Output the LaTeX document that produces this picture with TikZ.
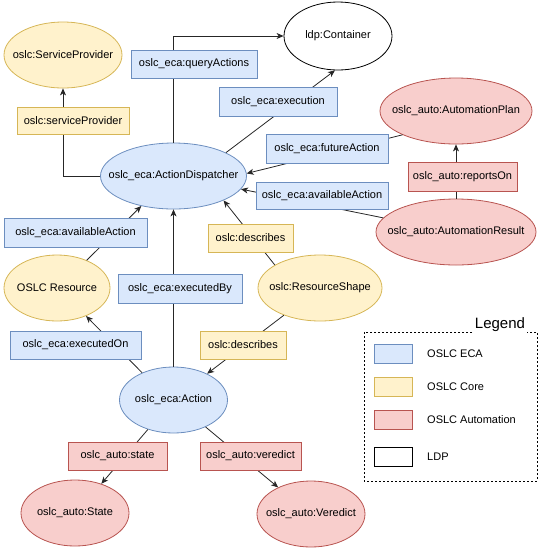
\documentclass[tikz,border=0pt]{standalone}
\usepackage{fontspec}
\setmainfont{Liberation Sans}
\usetikzlibrary{shapes.geometric,arrows.meta}
\definecolor{ecaF}{HTML}{DAE8FC}\definecolor{ecaD}{HTML}{6C8EBF}
\definecolor{coreF}{HTML}{FFF2CC}\definecolor{coreD}{HTML}{D6B656}
\definecolor{autoF}{HTML}{F8CECC}\definecolor{autoD}{HTML}{B85450}
\newcommand{\zw}[1]{\makebox[0pt]{#1}}
\tikzset{
  ell/.style={ellipse,inner sep=0pt,font=\fontsize{11}{13}\selectfont,line width=0.8pt},
  lbl/.style={rectangle,inner sep=0pt,font=\fontsize{11}{13}\selectfont,line width=0.8pt},
  eca/.style={fill=ecaF,draw=ecaD},
  core/.style={fill=coreF,draw=coreD},
  auto/.style={fill=autoF,draw=autoD},
  ldp/.style={fill=white,draw=black},
  conn/.style={line width=0.8pt,draw=black!85},
  arr/.style={conn,-{Stealth[length=7pt,width=6pt,inset=2pt]}},
}
\begin{document}
\begin{tikzpicture}[x=1pt,y=-1pt]
\useasboundingbox (0,0) rectangle (542,550);
% ellipses
\node[ell,core,minimum width=118pt,minimum height=66pt] (sp) at (63,55) {\zw{oslc:ServiceProvider}};
\node[ell,ldp,minimum width=108pt,minimum height=68pt] (cont) at (338,36) {\zw{ldp:Container}};
\node[ell,eca,minimum width=146pt,minimum height=66pt] (ad) at (173.5,176) {\zw{oslc\_eca:ActionDispatcher}};
\node[ell,auto,minimum width=152pt,minimum height=66pt] (ap) at (456,111) {\zw{oslc\_auto:AutomationPlan}};
\node[ell,auto,minimum width=160pt,minimum height=66pt] (ar) at (456,232) {\zw{oslc\_auto:AutomationResult}};
\node[ell,core,minimum width=106pt,minimum height=66pt] (res) at (57,288) {\zw{OSLC Resource}};
\node[ell,core,minimum width=124pt,minimum height=66pt] (rs) at (320,288) {\zw{oslc:ResourceShape}};
\node[ell,eca,minimum width=108pt,minimum height=66pt] (act) at (173.5,400) {\zw{oslc\_eca:Action}};
\node[ell,auto,minimum width=108pt,minimum height=66pt] (st) at (75,513) {\zw{oslc\_auto:State}};
\node[ell,auto,minimum width=108pt,minimum height=66pt] (ver) at (311,514) {\zw{oslc\_auto:Veredict}};
% connectors
\draw[arr] (ad.north) |- (cont.west);
\draw[arr] (ad.west) -| (sp.south);
\draw[arr] (ad.24) -- (cont.265);
\draw[arr] (ap.204) -- (ad.2);
\draw[arr] (ar.169) -- (ad.-11);
\draw[arr] (ar.north) -- (ap.south);
\draw[arr] (res.43) -- (ad.223);
\draw[arr] (act.north) -- (ad.south);
\draw[arr] (rs.153) -- (ad.-26);
\draw[arr] (rs.217) -- (act.38);
\draw[arr] (act.139) -- (res.-44);
\draw[arr] (act.229) -- (st.48);
\draw[arr] (act.-40) -- (ver.141);
% labels
\node[lbl,eca,minimum width=126pt,minimum height=28pt] (lqa) at (194,64) {oslc\_eca:queryActions};
\node[lbl,core,minimum width=112pt,minimum height=27pt] (lsp) at (73,120.5) {oslc:serviceProvider};
\node[lbl,eca,minimum width=118pt,minimum height=29pt] (lex) at (278,101.5) {oslc\_eca:execution};
\node[lbl,eca,minimum width=122pt,minimum height=29pt] (lfa) at (327,148.5) {oslc\_eca:futureAction};
\node[lbl,eca,minimum width=132pt,minimum height=27pt] (laa) at (322,195.5) {oslc\_eca:availableAction};
\node[lbl,auto,minimum width=109pt,minimum height=29pt] (lro) at (462.5,176.5) {oslc\_auto:reportsOn};
\node[lbl,eca,minimum width=143pt,minimum height=29pt] (laa2) at (75.5,232.5) {oslc\_eca:availableAction};
\node[lbl,eca,minimum width=124pt,minimum height=29pt] (leb) at (180,288.5) {oslc\_eca:executedBy};
\node[lbl,core,minimum width=85pt,minimum height=28pt] (ld1) at (250.5,238) {oslc:describes};
\node[lbl,core,minimum width=86pt,minimum height=28pt] (ld2) at (243,345) {oslc:describes};
\node[lbl,eca,minimum width=131pt,minimum height=28pt] (leo) at (75.5,345) {oslc\_eca:executedOn};
\node[lbl,auto,minimum width=99pt,minimum height=28pt] (lst) at (117.5,456) {oslc\_auto:state};
\node[lbl,auto,minimum width=101pt,minimum height=28pt] (lve) at (250.5,456) {oslc\_auto:veredict};
% legend
\draw[line width=0.8pt,dash pattern=on 2pt off 2pt] (364,332) rectangle (537,481);
\node[fill=white,inner sep=2pt,font=\fontsize{15}{17}\selectfont] (legt) at (500,325) {Legend};
\node[lbl,eca,minimum width=38pt,minimum height=19pt] (s1) at (393,353.5) {};
\node[lbl,core,minimum width=38pt,minimum height=19pt] (s2) at (393,387) {};
\node[lbl,auto,minimum width=38pt,minimum height=19pt] (s3) at (393,420) {};
\node[lbl,ldp,minimum width=38pt,minimum height=19pt] (s4) at (393,457) {};
\node[anchor=west,inner sep=0pt,font=\fontsize{11}{13}\selectfont] (t1) at (427,353.5) {OSLC ECA};
\node[anchor=west,inner sep=0pt,font=\fontsize{11}{13}\selectfont] (t2) at (427,387) {OSLC Core};
\node[anchor=west,inner sep=0pt,font=\fontsize{11}{13}\selectfont] (t3) at (427,420) {OSLC Automation};
\node[anchor=west,inner sep=0pt,font=\fontsize{11}{13}\selectfont] (t4) at (427,457) {LDP};
\end{tikzpicture}
\end{document}
